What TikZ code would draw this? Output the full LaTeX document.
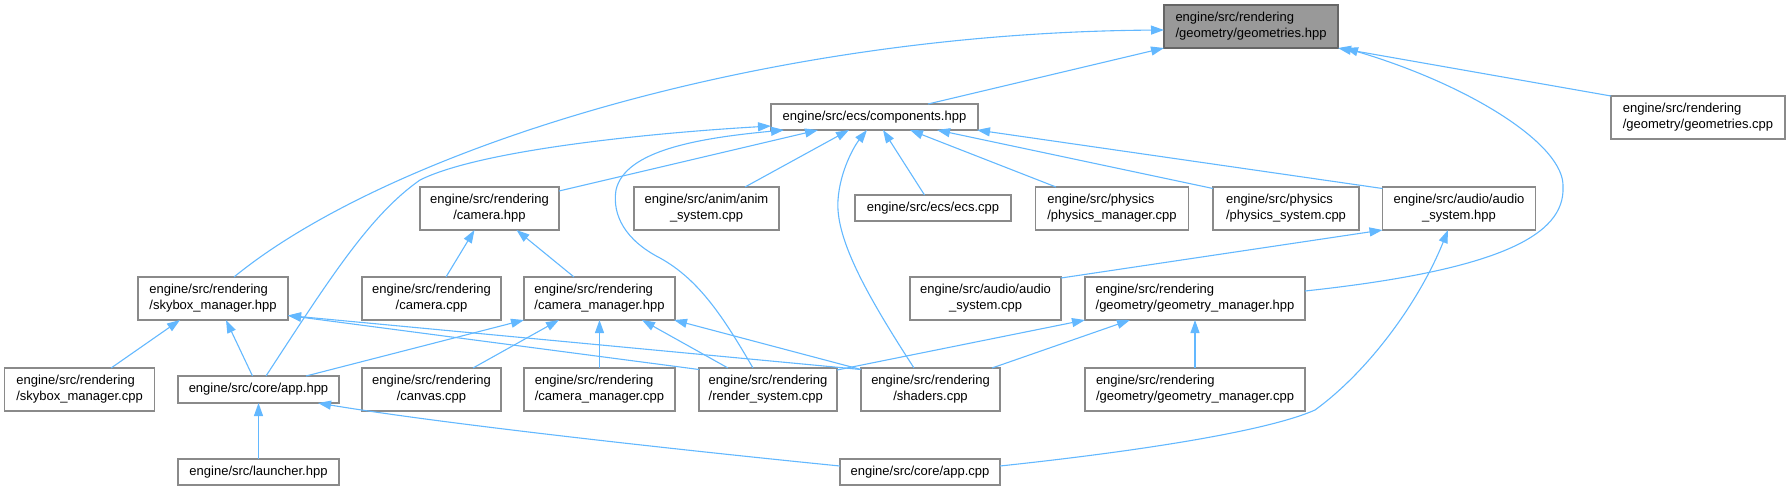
\documentclass[tikz,border=0pt]{standalone}
\usepackage{fontspec}
\setmainfont{Liberation Sans}
\usetikzlibrary{arrows.meta}
\definecolor{edgeblue}{HTML}{63B8FF}
\definecolor{boxborder}{HTML}{8A8A8A}
\definecolor{mainborder}{HTML}{666666}
\definecolor{mainfill}{HTML}{999999}
\tikzset{
  filebox/.style={draw=boxborder, line width=1.3pt, fill=white, inner sep=0pt, outer sep=0pt,
    font=\fontsize{13}{16}\selectfont, text=black},
  mainbox/.style={filebox, draw=mainborder, fill=mainfill},
  inc/.style={draw=edgeblue, line width=1.1pt, -{Triangle[length=13pt,width=9pt]}},
}
\newcommand{\bx}[5]{\node[#1, minimum width=#4pt, minimum height=#5pt] (#2) at (#3) }
\begin{document}
\begin{tikzpicture}[x=1pt,y=-1pt]
\useasboundingbox (0,0) rectangle (1786,491);
% ---- nodes ----
\bx{mainbox,align=left}{geoh}{1251,26.5}{174}{43}{engine/src/rendering\\/geometry/geometries.hpp};
\bx{filebox,align=left}{geocpp}{1698,117.5}{174}{43}{engine/src/rendering\\/geometry/geometries.cpp};
\bx{filebox}{comp}{874.5,117}{207}{26}{engine/src/ecs/components.hpp};
\bx{filebox,align=center}{camh}{489.5,208.5}{139}{43}{engine/src/rendering\\/camera.hpp};
\bx{filebox,align=center}{anim}{706.5,208.5}{145}{43}{engine/src/anim/anim\\\_system.cpp};
\bx{filebox}{ecs}{933,208}{156}{26}{engine/src/ecs/ecs.cpp};
\bx{filebox,align=left}{physmgr}{1112,208.5}{153}{43}{engine/src/physics\\/physics\_manager.cpp};
\bx{filebox,align=left}{physsys}{1286,208.5}{146}{43}{engine/src/physics\\/physics\_system.cpp};
\bx{filebox,align=center}{audioh}{1459,208.5}{153}{43}{engine/src/audio/audio\\\_system.hpp};
\bx{filebox,align=left}{skyh}{213,298.5}{150}{43}{engine/src/rendering\\/skybox\_manager.hpp};
\bx{filebox,align=center}{camcpp}{431.5,298.5}{139}{43}{engine/src/rendering\\/camera.cpp};
\bx{filebox,align=left}{cmgrh}{599.5,298.5}{151}{43}{engine/src/rendering\\/camera\_manager.hpp};
\bx{filebox,align=center}{audiocpp}{985.5,298.5}{151}{43}{engine/src/audio/audio\\\_system.cpp};
\bx{filebox,align=left}{gmgrh}{1195,298.5}{220}{43}{engine/src/rendering\\/geometry/geometry\_manager.hpp};
\bx{filebox,align=left}{skycpp}{79.6,389.5}{150}{43}{engine/src/rendering\\/skybox\_manager.cpp};
\bx{filebox}{apph}{258.5,389.5}{161}{27}{engine/src/core/app.hpp};
\bx{filebox,align=center}{canvas}{431.5,389.5}{139}{43}{engine/src/rendering\\/canvas.cpp};
\bx{filebox,align=left}{cmgrcpp}{599.5,389.5}{151}{43}{engine/src/rendering\\/camera\_manager.cpp};
\bx{filebox,align=left}{render}{768,389.5}{138}{43}{engine/src/rendering\\/render\_system.cpp};
\bx{filebox,align=center}{shaders}{930.5,389.5}{139}{43}{engine/src/rendering\\/shaders.cpp};
\bx{filebox,align=left}{gmgrcpp}{1195,389.5}{220}{43}{engine/src/rendering\\/geometry/geometry\_manager.cpp};
\bx{filebox}{launcher}{258.5,472}{161}{26}{engine/src/launcher.hpp};
\bx{filebox}{appcpp}{920,472}{160}{26}{engine/src/core/app.cpp};
% ---- edges to geometries.hpp ----
\draw[inc] ([xshift=53.5]comp.north) -- (geoh.south west);
\draw[inc] ([xshift=21]skyh.north) .. controls (384,154) and (750,33) .. ([yshift=-3.5]geoh.west);
\draw[inc] (geocpp.north west) -- (geoh.south east);
\draw[inc] ([yshift=7.5]gmgrh.east) .. controls (1500,270) and (1565,235) .. (1563,187)
  .. controls (1565,145) and (1470,85) .. ([xshift=7]geoh.south east);
% ---- edges to components.hpp ----
\draw[inc] ([yshift=17.5]camh.east) -- ([xshift=-56.5]comp.south);
\draw[inc] ([xshift=38.5]anim.north) -- ([xshift=-25.5]comp.south);
\draw[inc] ([xshift=-8.5]ecs.north) -- ([xshift=8.5]comp.south);
\draw[inc] ([xshift=-56]physmgr.north) -- ([xshift=35.5]comp.south);
\draw[inc] ([yshift=-1.5]physsys.north west) -- ([xshift=62.5]comp.south);
\draw[inc] ([yshift=-1.5]audioh.north west) -- ([xshift=-1]comp.south east);
\draw[inc] ([xshift=7.5]apph.north) .. controls (330,278) and (370,215) .. (420,180)
  .. controls (480,150) and (650,133) .. ([yshift=-9]comp.west);
\draw[inc] ([xshift=-15]render.north) .. controls (725,320) and (700,280) .. (660,258)
  .. controls (625,240) and (612,215) .. (616,190)
  .. controls (625,150) and (700,138) .. ([xshift=-90.5]comp.south);
\draw[inc] ([xshift=-16.5]shaders.north) .. controls (870,300) and (835,240) .. (838,200)
  .. controls (840,170) and (855,145) .. ([xshift=-7.5]comp.south);
% ---- edges to camera.hpp ----
\draw[inc] ([xshift=14.5]camcpp.north) -- ([xshift=-15]camh.south);
\draw[inc] ([xshift=-25.5]cmgrh.north) -- ([xshift=27]camh.south);
% ---- edges to audio_system.hpp ----
\draw[inc] ([yshift=-1]audiocpp.north east) -- (audioh.south west);
\draw[inc] ([yshift=6]appcpp.east) .. controls (1150,450) and (1270,430) .. (1315,410)
  .. controls (1370,370) and (1420,300) .. ([xshift=-11]audioh.south);
% ---- edges to skybox_manager.hpp ----
\draw[inc] ([xshift=31.5]skycpp.north) -- ([xshift=-33]skyh.south);
\draw[inc] ([xshift=-6]apph.north) -- ([xshift=13]skyh.south);
\draw[inc] ([yshift=-1.5]render.north west) -- ([yshift=4.5]skyh.south east);
\draw[inc] ([yshift=-1.5]shaders.north west) -- ([yshift=4.5]skyh.south east);
% ---- edges to camera_manager.hpp ----
\draw[inc] ([xshift=47.5]apph.north) -- (cmgrh.south west);
\draw[inc] ([xshift=41.5]canvas.north) -- ([xshift=-40.5]cmgrh.south);
\draw[inc] (cmgrcpp.north) -- (cmgrh.south);
\draw[inc] ([xshift=-40]render.north) -- ([xshift=42.5]cmgrh.south);
\draw[inc] ([yshift=-1.5]shaders.north west) -- ([xshift=-1]cmgrh.south east);
% ---- edges to geometry_manager.hpp ----
\draw[inc] ([yshift=-2]render.north east) -- (gmgrh.south west);
\draw[inc] ([xshift=61.5]shaders.north) -- ([xshift=-65]gmgrh.south);
\draw[inc] (gmgrcpp.north) -- (gmgrh.south);
% ---- edges to app.hpp ----
\draw[inc] (launcher.north) -- (apph.south);
\draw[inc] ([yshift=6]appcpp.west) .. controls (700,452) and (450,425) .. ([xshift=59.5]apph.south);
\end{tikzpicture}
\end{document}
